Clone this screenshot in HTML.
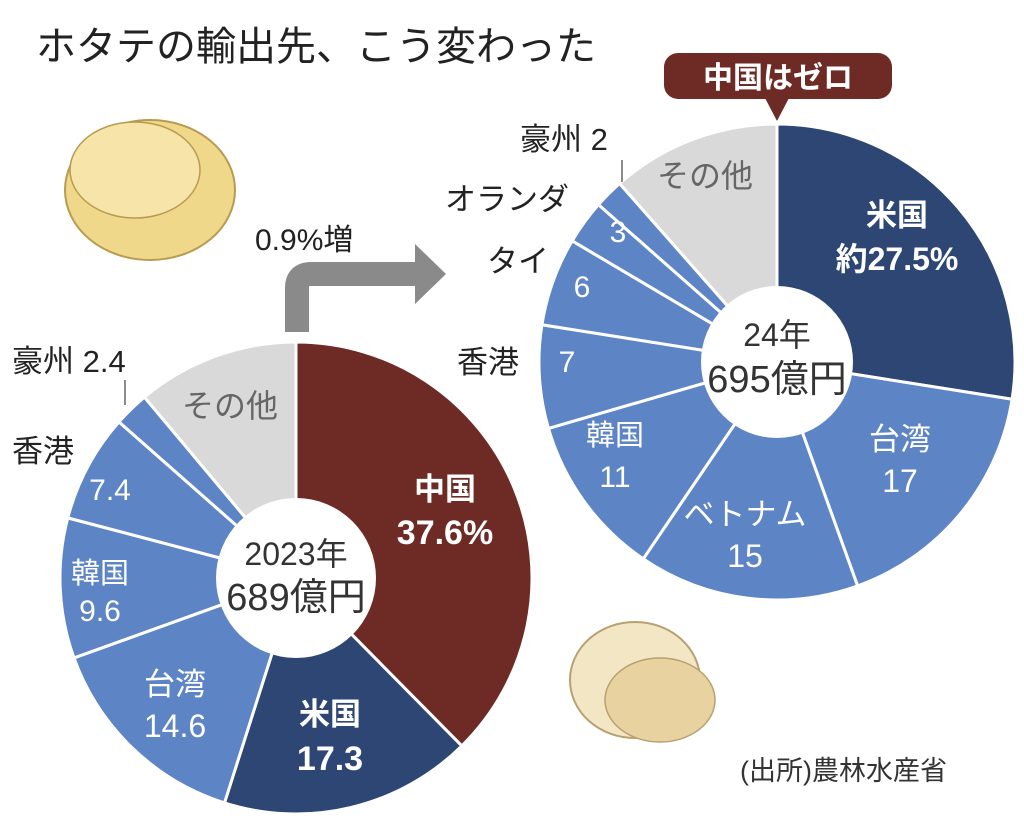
<!DOCTYPE html>
<html><head><meta charset="utf-8">
<style>
html,body{margin:0;padding:0;background:#fff;}
svg{display:block;}
text{font-family:"Liberation Sans","Noto Sans CJK JP",sans-serif;}
</style></head>
<body>
<svg id="s" width="1024" height="822" viewBox="0 0 1024 822" xmlns="http://www.w3.org/2000/svg">
<rect width="1024" height="822" fill="#fff"/>
<text x="36" y="60" font-size="40" fill="#222">ホタテの輸出先、こう変わった</text>
<g>
<ellipse cx="150" cy="190" rx="85" ry="70" fill="#f0d88a" stroke="#b89a50" stroke-width="2"/>
<ellipse cx="135" cy="170" rx="65" ry="48" fill="#f6e4a8" stroke="#b89a50" stroke-width="1.5"/>
<ellipse cx="635" cy="680" rx="65" ry="58" fill="#f3e6c4" stroke="#b8a070" stroke-width="2"/>
<ellipse cx="660" cy="700" rx="55" ry="42" fill="#e8d3a0" stroke="#b8a070" stroke-width="1.5"/>
</g>
<path d="M297 332 V288 Q297 274 311 274 H418" fill="none" stroke="#8a8a8a" stroke-width="24"/>
<polygon points="415,244 446,274 415,304" fill="#8a8a8a"/>
<text x="255" y="250" font-size="30" fill="#222">0.9%増</text>
<g id="pies"></g>
<rect x="664" y="53" width="228" height="46" rx="14" fill="#6e2a24"/>
<polygon points="765,98 789,98 777,121" fill="#6e2a24"/>
<text x="778" y="88" font-size="30" font-weight="bold" fill="#fff" text-anchor="middle">中国はゼロ</text>
<g font-size="31" fill="#222">
<text x="12" y="372">豪州 2.4</text>
<line x1="125" y1="380" x2="125" y2="405" stroke="#666" stroke-width="1.5"/>
<text x="12" y="462">香港</text>
<text x="740" y="780" font-size="27" fill="#333">(出所)農林水産省</text>
<text x="520" y="150">豪州 2</text>
<line x1="622" y1="160" x2="622" y2="182" stroke="#666" stroke-width="1.5"/>
<text x="445" y="210">オランダ</text>
<text x="487" y="272">タイ</text>
<text x="457" y="373">香港</text>
</g>
</svg>
<script>
(function(){
var NS="http://www.w3.org/2000/svg";
var g=document.getElementById("pies");
function el(n,a,t){var e=document.createElementNS(NS,n);for(var k in a)e.setAttribute(k,a[k]);if(t!=null)e.textContent=t;g.appendChild(e);return e;}
function pt(cx,cy,r,a){a=(a-90)*Math.PI/180;return [cx+r*Math.cos(a),cy+r*Math.sin(a)];}
function pie(cx,cy,R,ri,data){
 var a=0;
 data.forEach(function(d){
  var b=a+d.v*3.6;
  var p1=pt(cx,cy,R,a),p2=pt(cx,cy,R,b);
  var large=(b-a)>180?1:0;
  el("path",{d:"M"+cx+" "+cy+" L"+p1[0]+" "+p1[1]+" A"+R+" "+R+" 0 "+large+" 1 "+p2[0]+" "+p2[1]+" Z",fill:d.c,stroke:"#fff","stroke-width":3});
  a=b;
 });
 el("circle",{cx:cx,cy:cy,r:ri,fill:"#fff"});
}
var RED="#6e2a24",NAVY="#2d4674",BLUE="#5d84c4",GREY="#d9d9d9";
pie(296,578,236,80,[{v:37.6,c:RED},{v:17.3,c:NAVY},{v:14.6,c:BLUE},{v:9.6,c:BLUE},{v:7.4,c:BLUE},{v:2.4,c:BLUE},{v:11.1,c:GREY}]);
pie(777,362,238,76,[{v:27.5,c:NAVY},{v:17,c:BLUE},{v:15,c:BLUE},{v:11,c:BLUE},{v:7,c:BLUE},{v:6,c:BLUE},{v:3,c:BLUE},{v:2,c:BLUE},{v:11.5,c:GREY}]);
function T(x,y,s,t,col,b){el("text",{x:x,y:y,"font-size":s,fill:col,"text-anchor":"middle","font-weight":b?"bold":"normal"},t);}
T(296,565,32,"2023年","#333");T(296,610,38,"689億円","#333");
T(445,500,31,"中国","#fff",1);T(445,544,34,"37.6%","#fff",1);
T(330,725,31,"米国","#fff",1);T(330,770,34,"17.3","#fff",1);
T(175,695,31,"台湾","#fff");T(175,737,32,"14.6","#fff");
T(100,583,29,"韓国","#fff");T(100,621,30,"9.6","#fff");
T(110,500,30,"7.4","#fff");
T(230,417,32,"その他","#666");
T(777,346,32,"24年","#333");T(777,392,38,"695億円","#333");
T(897,226,31,"米国","#fff",1);T(897,270,32,"約27.5%","#fff",1);
T(900,450,31,"台湾","#fff");T(900,492,32,"17","#fff");
T(745,525,31,"ベトナム","#fff");T(745,567,32,"15","#fff");
T(615,445,29,"韓国","#fff");T(615,487,30,"11","#fff");
T(567,372,30,"7","#fff");
T(582,297,30,"6","#fff");
T(618,242,30,"3","#fff");
T(705,187,32,"その他","#666");
})();
</script>
</body></html>
